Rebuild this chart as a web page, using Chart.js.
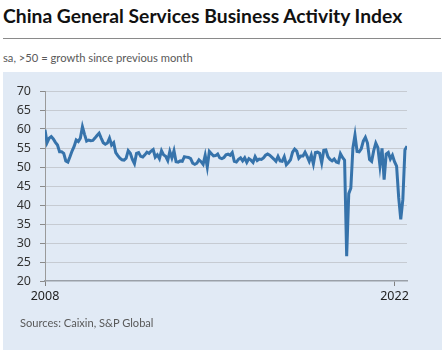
<!DOCTYPE html>
<html><head><meta charset="utf-8">
<script src="https://cdn.jsdelivr.net/npm/chart.js@4"></script>
<style>
body{margin:0;width:447px;height:350px;background:#fff;position:relative;overflow:hidden;font-family:Lato,"Noto Sans",sans-serif;}
#title{position:absolute;left:3px;top:4px;font-size:19.3px;font-weight:bold;color:#111;white-space:nowrap;}
#rule{position:absolute;left:3px;top:38px;width:438px;height:1px;background:#8a8a8a;}
#sub{position:absolute;left:3px;top:51px;font-size:11.2px;color:#595959;white-space:nowrap;}
#panel{position:absolute;left:3px;top:72px;width:439px;height:278px;background:#e1eaf5;}
#src{position:absolute;left:20px;top:316px;font-size:11.1px;color:#595959;white-space:nowrap;}
#c{position:absolute;left:0;top:72px;}
</style></head>
<body>
<div id="title">China General Services Business Activity Index</div>
<div id="rule"></div>
<div id="sub">sa, &gt;50 = growth since previous month</div>
<div id="panel"></div>
<canvas id="c" width="447" height="278"></canvas>
<div id="src">Sources: Caixin, S&amp;P Global</div>
<script>
// Monthly index values, Jan of each year onward
const y2008 = [59.8, 56.4, 57.6, 58.0, 57.4, 56.5, 55.8, 54.0, 54.0, 53.6, 51.6, 51.3];
const y2009 = [52.7, 54.2, 55.4, 57.1, 56.7, 57.6, 60.6, 58.6, 56.8, 57.1, 56.9, 57.0];
const y2010 = [57.6, 58.3, 58.9, 57.6, 56.4, 56.0, 56.3, 57.6, 55.8, 56.4, 53.8, 53.0];
const y2011 = [52.3, 51.9, 51.8, 52.3, 54.3, 53.6, 52.0, 50.9, 53.6, 53.8, 52.8, 52.6];
const y2012 = [53.2, 53.9, 53.6, 54.2, 54.6, 52.6, 53.2, 52.2, 54.3, 53.2, 52.8, 51.7];
const y2013 = [54.1, 52.4, 54.3, 51.4, 51.3, 51.6, 51.5, 52.7, 52.6, 52.5, 52.2, 51.0];
const y2014 = [50.7, 51.0, 51.9, 51.4, 50.7, 53.1, 50.0, 54.1, 53.5, 52.9, 53.0, 53.4];
const y2015 = [52.4, 52.2, 52.5, 53.2, 53.4, 53.1, 53.8, 51.5, 51.3, 52.0, 52.4, 51.6];
const y2016 = [52.4, 51.2, 52.2, 51.8, 51.2, 52.7, 51.7, 52.1, 52.0, 52.4, 53.1, 53.4];
const y2017 = [53.1, 52.6, 52.1, 51.5, 52.8, 51.6, 51.5, 52.7, 50.6, 51.2, 51.9, 53.9];
const y2018 = [54.7, 54.2, 52.3, 52.9, 52.9, 53.9, 52.8, 51.5, 53.1, 50.8, 53.8, 53.9];
const y2019 = [53.6, 51.1, 54.4, 54.5, 52.7, 52.0, 51.6, 52.1, 51.3, 51.1, 53.5, 52.5];
const y2020 = [51.8, 26.5, 43.0, 44.4, 55.0, 58.4, 54.1, 54.0, 54.8, 56.8, 57.8, 56.3];
const y2021 = [52.0, 51.5, 54.3, 56.3, 55.1, 50.3, 54.9, 46.7, 53.4, 53.8, 52.1, 53.1];
const y2022 = [51.4, 50.2, 42.0, 36.2, 41.4, 54.5, 55.5];

const startYear = 2008;
const xTickYears = [2008, 2022];
const xTickLabels = ['2008', '2022'];
const yTicks = [20, 25, 30, 35, 40, 45, 50, 55, 60, 65, 70];

const series = [].concat(y2008, y2009, y2010, y2011, y2012, y2013, y2014, y2015,
  y2016, y2017, y2018, y2019, y2020, y2021, y2022);
const points = series.map((v, i) => ({x: startYear + i / 12, y: v}));

const FONT = "'Noto Sans', sans-serif";
new Chart(document.getElementById('c'), {
  type: 'line',
  data: {datasets: [{
    data: points,
    borderColor: '#3673ab',
    borderWidth: 3,
    pointRadius: 0,
    tension: 0,
    fill: false
  }]},
  options: {
    responsive: false,
    animation: false,
    events: [],
    layout: {padding: {left: 0, right: 40, top: 19, bottom: 39}},
    plugins: {legend: {display: false}, tooltip: {enabled: false}},
    scales: {
      x: {
        type: 'linear',
        min: startYear,
        max: startYear + (series.length - 1) / 12,
        afterBuildTicks: ax => { ax.ticks = xTickYears.map(v => ({value: v})); },
        afterFit: s => { s.height = 30; },
        grid: {drawOnChartArea: false, drawTicks: true, tickLength: 5, tickColor: '#808080'},
        border: {display: true, color: '#9aa0a8', width: 1.5},
        ticks: {
          autoSkip: false, maxRotation: 0, padding: 3,
          color: '#222', font: {family: FONT, size: 12.5},
          callback: v => xTickLabels[xTickYears.indexOf(v)]
        }
      },
      y: {
        min: 20, max: 70,
        afterBuildTicks: ax => { ax.ticks = yTicks.map(v => ({value: v})); },
        afterFit: s => { s.width = 45; },
        grid: {
          color: ctx => (ctx.tick && ctx.tick.value === 20) ? 'rgba(0,0,0,0)' : '#c6cbd2',
          lineWidth: 1, drawTicks: true, tickLength: 5, tickColor: '#8a8a8a'
        },
        border: {display: true, color: '#9a9a9a', width: 1},
        ticks: {padding: 9, color: '#333', font: {family: FONT, size: 12.5}}
      }
    }
  }
});
</script>
</body></html>
